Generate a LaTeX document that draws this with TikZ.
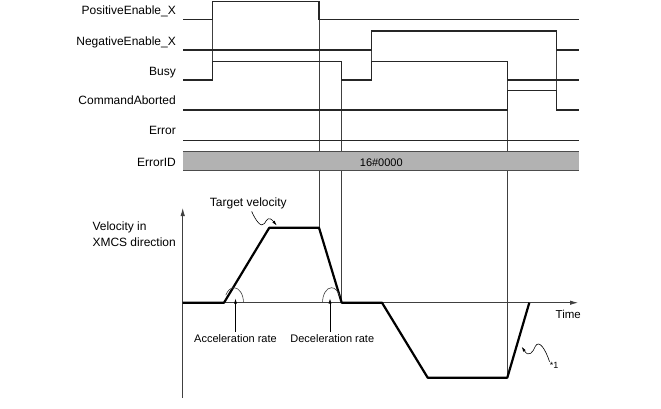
\documentclass[tikz,border=0pt]{standalone}
\usepackage{fontspec}
\setmainfont{Liberation Sans}
\usetikzlibrary{arrows.meta}

\begin{document}
\begin{tikzpicture}[
  x=1pt, y=-1pt,
  every node/.style = {inner sep=0pt, font=\fontsize{12}{14}\selectfont},
  small/.style = {font=\fontsize{11}{13}\selectfont},
  signal/.style = {line width=1.3pt, black!85},
  guide/.style = {line width=0.6pt, black!75},
  profile/.style = {line width=2.2pt, line join=round},
  axis/.style = {line width=0.8pt, black!75, -{Latex[length=8pt,width=4.5pt]}},
  pointer/.style = {line width=0.6pt, -{Latex[length=5pt,width=3pt]}}
]
  \useasboundingbox (0,0) rectangle (661,408);

  % time marks
  \foreach \x/\a/\b in {212.7/1.5/80, 319/1.5/227.7, 341.7/61.3/302.7,
                        371.3/31/80, 507.3/61.3/377.7, 556.7/31/110}
    \draw[guide] (\x,\a) -- (\x,\b);

  \node[anchor=base east] (pe) at (176,14.3) {PositiveEnable\_X};
  \node[anchor=base east] (ne) at (176,45.3) {NegativeEnable\_X};
  \node[anchor=base east] (busy) at (176,75) {Busy};
  \node[anchor=base east] (ca) at (176,104.3) {CommandAborted};
  \node[anchor=base east] (err) at (176,134.3) {Error};
  \node[anchor=base east] (errid) at (176,166) {ErrorID};

  \draw[signal] (183,19.5) -- (212.7,19.5) -- (212.7,1.5) -- (319,1.5) -- (319,19.5) -- (579,19.5);
  \draw[signal] (183,50) -- (371.3,50) -- (371.3,31) -- (556.7,31) -- (556.7,50) -- (579,50);
  \draw[signal] (183,80) -- (212.7,80) -- (212.7,61.3) -- (341.7,61.3) -- (341.7,80)
    -- (371.3,80) -- (371.3,61.3) -- (507.3,61.3) -- (507.3,80) -- (579,80);
  \draw[signal] (183,110) -- (507.3,110) -- (507.3,90.7) -- (556.7,90.7) -- (556.7,110) -- (579,110);
  \draw[signal] (183,140.3) -- (579,140.3);
  \fill[black!30] (183,151.7) rectangle (579,170.7);
  \draw[signal, black!70] (183,151.7) -- (579,151.7) (183,170.7) -- (579,170.7);
  \node[small, anchor=base] (value) at (381.3,166) {16\#0000};

  % velocity
  \coordinate (o) at (182.7,302.7);
  \coordinate (ybot) at (182.7,398);
  \coordinate (ytop) at (182.7,208);
  \coordinate (xend) at (578,302.7);
  \draw[axis] (ybot) -- (ytop);
  \draw[axis] (o) -- (xend);
  \node[anchor=north west, align=left, font=\fontsize{12}{15.7}\selectfont] (vel) at (92.3,221.5)
    {Velocity in\\XMCS direction};
  \node[anchor=base, font=\fontsize{11.5}{13}\selectfont] (time) at (568.3,318) {Time};

  \draw[profile] (o) -- (224,302.7) -- (269.3,227.7) -- (319,227.7) -- (341.7,302.7)
    -- (382,302.7) -- (427.7,377.7) -- (507.3,377.7) -- (529.3,302.7);

  \draw[guide] (243.5,302.7) arc[start angle=0, end angle=150, x radius=9.5pt, y radius=15pt];
  \draw[guide] (322.5,302.7) arc[start angle=180, end angle=25, x radius=9pt, y radius=15pt];

  \node[small, anchor=base] (acc) at (235.5,342.4) {Acceleration rate};
  \node[small, anchor=base] (dec) at (332.3,342.4) {Deceleration rate};
  \coordinate (acc tip) at (235.5,298.5);
  \coordinate (dec tip) at (330,298.5);
  \draw[pointer] ([yshift=2.5pt]acc.north) -- (acc tip);
  \draw[pointer] (dec tip |- acc.north) ++(0,-2.5) -- (dec tip);

  \node[anchor=base] (tv) at (248.3,206) {Target velocity};
  \coordinate (tv foot) at (251.7,211.5);
  \coordinate (tv tip) at (276.7,225.5);
  \draw[pointer] (tv foot) .. controls (256,221) and (261,228) .. (264.5,223.5)
    .. controls (267,219) and (269,216) .. (tv tip);

  \node[font=\fontsize{9}{10}\selectfont] (note) at (554,365) {*1};
  \coordinate (note tip) at (521.7,346.7);
  \draw[pointer] (note.north west) .. controls (545,348) and (539,340) .. (535.5,346)
    .. controls (533,352) and (529,358) .. (note tip);
\end{tikzpicture}
\end{document}
